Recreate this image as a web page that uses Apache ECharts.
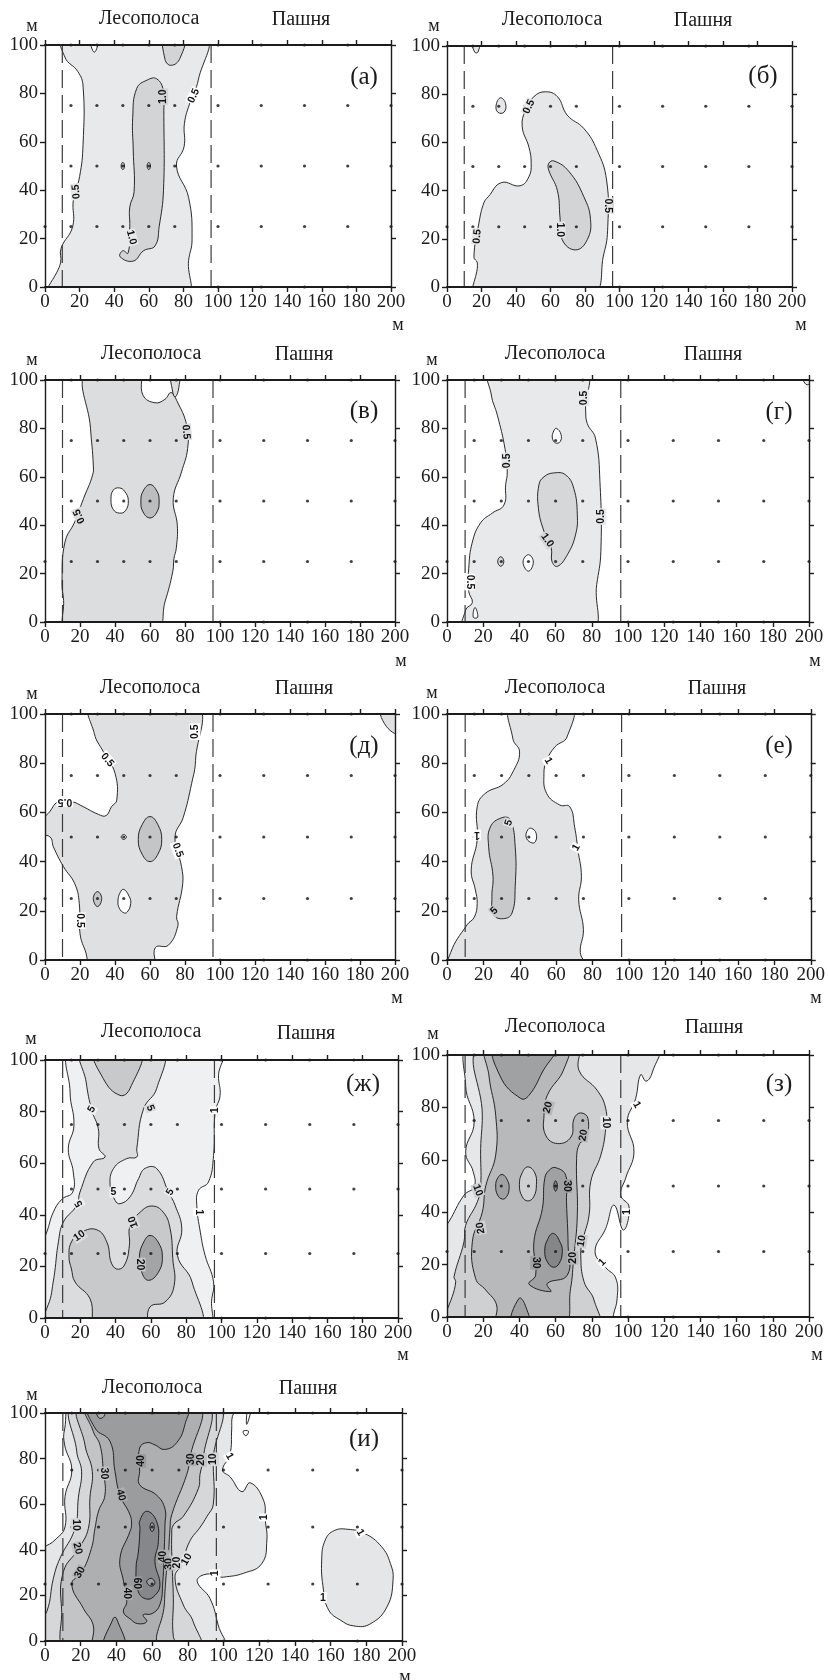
<!DOCTYPE html>
<html><head><meta charset="utf-8"><style>html,body{margin:0;padding:0;background:#fff}#c{width:828px;height:1680px}</style>
<script src="https://cdn.jsdelivr.net/npm/echarts@6/dist/echarts.min.js"></script></head>
<body><div id="c"></div>
<script>
// ---- Contour outlines, in metres (x along the transect, y along the belt) ----
// Panel а
const a05 = [[3,0],[9,10],[9.3,16],[16,25],[16.4,36],[20,45.6],[22,59],[22,83],[19,89],[11.5,95],[10.6,100],[91.6,100],[88.6,85.5],[84,76.6],[80.6,67.6],[80.4,58],[76,50],[83,37],[85,19.5],[83,11],[81,0]];
const a10 = [[59,85.5],[64.6,86],[68.5,81],[68.7,73],[68.5,40],[66,25],[63.6,17],[57,15],[51,10.7],[43.4,12.5],[45,15],[48,14],[49,25],[49,33],[51.5,39.4],[51,56.6],[50.7,70],[53,82]];
const a10top = [[69.4,100],[69.4,94],[73,91.6],[78,94.5],[80.4,100]];
const aHole = [[26,100],[28.5,97],[31,100]];
const aSpot1 = [[44,50],[45,51.5],[46,50],[45,48.5]];
const aSpot2 = [[59,50],[60,51.5],[61,50],[60,48.5]];
// Panel б
const b05 = [[17.6,0],[17.6,10],[15.6,12.4],[18.5,26.5],[21.4,35],[24,37.5],[31.5,43.3],[42.3,42],[47.5,45.8],[48.8,51.3],[47.5,58],[43.6,66.5],[45.5,73.4],[50.4,79],[57,81],[64,79],[69.7,71.3],[79.3,65.8],[87,56.8],[92.5,44.4],[93.2,25],[91,14],[82.8,0]];
const b10 = [[59,51.3],[62,52.3],[70.6,48],[79.3,37.5],[83.2,28],[81.3,19.6],[74.5,15.4],[66.8,19.6],[65.5,29],[64,40],[59,48.5]];
const bLoop1 = [[31,78.5],[34,76],[33,72.5],[29.5,72.5],[28.5,75.5]];
const bLoop2 = [[14,100],[16,97.5],[18,97.5],[19,100]];
// Panel в
const v05 = [[13.3,0],[10.5,10],[9.7,16.6],[11.4,33],[17,41.4],[22,51],[27.2,60.7],[27.6,64.8],[26,80],[23.8,100],[53,100],[56,93.7],[62.8,90.6],[68.5,92],[72,94.8],[75.2,91.6],[81,81.3],[81.5,71.7],[78,62],[73.3,51],[75.6,40],[75,30.4],[73.7,26.3],[73,20.8],[68.6,8.4],[62.8,0]];
const vTop = [[72,100],[73,95],[74.5,93],[76.5,97],[76.5,100]];
const vHole = [[42.5,55.4],[45.5,54],[47.6,50.3],[46,46],[42.5,45],[39,46.5],[37.7,50.5],[39,54.5]];
const v10 = [[60,56.8],[64,54],[65.2,50],[64,45.5],[60,43],[56,45.5],[54.8,50],[56,54]];
// Panel г
const g05 = [[9.8,0],[10.3,5],[14,8],[12,12.6],[12,22],[14,33],[18.6,41],[25,45],[31.5,48.4],[32.4,56.7],[33.3,62],[32,71.8],[27.8,85.5],[24.5,93.8],[24,100],[75.7,100],[76.6,87.6],[77.5,82],[82,76],[84.5,58],[85,29],[82.7,15.4],[78.8,0]];
const g10 = [[59,61.6],[65.5,60.8],[70,55.3],[72,44.3],[71,36],[66.5,27.8],[61,23],[58,25],[57.6,30.5],[53.6,37.4],[50.5,47],[50.8,56.7],[53.6,60]];
const gHole1 = [[60.5,80],[63,77.5],[62.5,74.5],[60,74],[58.2,76],[59,79]];
const gHole2 = [[45,27.8],[47.7,24.8],[45,21],[42,24.8]];
const gHole3 = [[14.5,2],[15.5,6],[17,2]];
const gSpot = [[28,25],[29.7,27],[31.4,25],[29.7,23]];
const gCorner = [[196,100],[199,98],[200,100]];
// Panel д
const d05 = [[0,51.5],[2.9,50],[4.8,46],[10.5,38],[17,31],[19.6,23],[20,10.8],[22.9,4],[28,0],[61.5,0],[63,5],[70.5,6],[76,14],[75.2,17.6],[78.7,31],[78,38],[74.3,50],[79,58],[83.8,71.8],[86,81],[85.7,100],[26.7,100],[28.2,92],[33.3,84.7],[40,75.9],[41,65],[38,62.3],[34.9,58.7],[30.5,59.2],[21.9,62.3],[15.2,64.4],[7.6,64.4],[1.9,59.6],[0,55.5]];
const dCorner = [[192,100],[195,95],[200,92],[200,100]];
const d10 = [[60,58.3],[64.5,55],[66.7,49],[64.5,43],[60,40],[55.5,43],[53.3,49],[55.5,55]];
const dHole1 = [[43.5,50],[45,51],[46.5,50],[45,49]];
const dHole2 = [[45,28.7],[48,26],[49,23],[47,19.5],[45,19.2],[42.5,21],[41.7,24],[43,27.5]];
const dSpot = [[27.6,25],[30,27.8],[32.4,25],[30,21.7]];
// Panel е
const e1 = [[1.6,0],[2,3],[11,14.3],[15,17.4],[16.6,23],[15.6,28.5],[13.3,36.6],[16.6,48.8],[16.6,62.3],[21,67.7],[31,71.5],[36.6,77],[39.9,84.6],[36.2,90],[35.7,100],[68,100],[66,90.7],[59.3,86.6],[54.8,81],[53.3,75.8],[54.8,67.7],[62,63],[67.5,62.3],[70.2,54],[72,44.7],[73.9,34],[72.4,24.5],[75,12.3],[73.3,3],[76.6,0]];
const e5 = [[30,57.8],[34.7,57],[37.5,46],[37.5,30],[35.7,19],[31,16.8],[25.7,18.4],[24.7,25.8],[25.3,34],[22.9,46],[23.8,54]];
const eHole = [[46.5,53.5],[49,51.5],[48.5,48],[46,47.8],[43.5,50],[44.5,53]];
// Panel ж
const zh1 = [[0,0],[0,25],[1,33.3],[4.7,41],[9.5,46],[15.7,48.8],[16,56.6],[13.2,65.6],[16.4,74.7],[14.2,87.6],[16,100],[99.8,100],[98.3,94],[99.2,86.3],[96.4,79.8],[95.5,63],[92.6,52.7],[87,49.5],[86,43.7],[88,33.3],[90.7,24.3],[95.5,14],[94.5,7.5],[91.7,0]];
const zh5 = [[21.4,100],[23.3,91.5],[26.5,80.5],[30.2,73.4],[30.6,65.6],[34,62.4],[27.4,60.5],[19.8,48.8],[18,43.7],[10.4,37.2],[7.6,29.5],[5.5,17.8],[3.8,10],[1.5,0],[86,0],[83.3,14],[75,24.3],[77.5,34.6],[73.7,43.7],[70,48.8],[63.3,57.9],[56.7,58],[53,54],[48.2,47],[42.5,44.3],[39.7,45.6],[36.9,51.4],[38.8,57.9],[46.3,61.8],[52,62.4],[52,65.6],[55.8,81],[63.3,89],[65.6,100]];
const zh10 = [[13.6,23.6],[15,29.5],[20.8,33.3],[29.3,34.2],[35,29.5],[37.8,21],[41.6,18.9],[45.4,21],[47.8,28],[48.2,35.8],[53.9,41],[60.5,43.4],[67,41],[70.9,34.6],[72.4,23],[73.2,12.7],[68,6.2],[59.5,4.3],[55.8,0],[29.7,0],[25.5,7.5],[17,14],[15,19]];
const zh20 = [[59.5,32],[64,29.5],[66.5,24],[64.3,17.8],[58.6,14.6],[54.8,17.8],[53.5,24],[56,29.5]];
const zhTop = [[28.4,100],[33,92.8],[42.5,86.3],[48.2,89],[53.9,100]];
// Panel з
const z1 = [[0,0],[0,31.3],[1,36.3],[9.4,46.5],[15,49.7],[14.5,55.4],[10.3,63],[15,74.5],[10.3,88.4],[14,100],[116,100],[113.5,93.5],[110,90],[107,92.5],[104.2,83.3],[99.6,74.5],[103.3,63],[98.7,53],[96,46.5],[100.6,42],[97.4,33.2],[92.3,42.7],[87.7,33.8],[81.8,25],[87.5,19],[93.2,14.9],[94,7],[92,1],[90.4,0]];
const z10 = [[2,0],[4.8,13.5],[3.9,15.4],[9.4,28.7],[10.3,35],[16.8,44],[18.6,50],[18.6,64.3],[19.5,77],[18.6,100],[71.5,100],[73,94],[83,86.5],[87.7,79.5],[87.7,72],[85,61.8],[79.4,51.6],[78.5,38.9],[74.8,28.7],[73.9,23.6],[75.7,13.5],[81.2,6.5],[82.7,0]];
const z20 = [[22.7,100],[23.2,92],[26.9,77],[26.9,61.8],[21.4,50],[19.5,40],[14,28.7],[15.8,14.7],[21.4,10.3],[27.4,4.6],[27.8,0],[63.4,0],[68.3,11],[69.8,21],[72,38.9],[71.6,60.5],[73.3,66.2],[76.6,68],[77.9,75.7],[73.9,77.9],[70.2,75.7],[68.5,68.7],[61,66.2],[54.5,69.4],[53.6,77],[55.4,84.6],[64.7,94.8],[65.9,100]];
const z30 = [[60,57],[65.6,54],[66,44],[66.9,27.4],[66.5,16],[55.4,12.8],[57.3,9.7],[45.3,12.5],[49,16],[48,28.7],[52.7,41.4],[54,52.9],[56.4,56]];
const z30left = [[30.6,54.4],[33.5,52],[34.3,49],[33,46],[30.6,45],[28,46.5],[26.9,50],[28,53]];
const z30bottom = [[35.2,0],[39.8,7.1],[43.5,4],[45.3,0]];
const z30top = [[27,100],[29.3,92],[40.8,83.4],[45.3,84.6],[52.7,93.5],[60,100]];
const z40 = [[58.8,31.9],[62.5,28.5],[63.7,25],[62,20.5],[58.8,19],[55.5,21],[54,25],[55.5,29.5]];
const zHole = [[44.7,57.3],[48.5,55],[49.4,50.5],[48,46],[44.7,44.3],[41.5,46],[40,50.5],[41.5,55]];
const zSpot = [[59,50],[60,52],[61,50],[60,48]];
// Panel и
const i1 = [[0,0],[0,37.7],[5.6,44.3],[11.2,50],[11.2,63.3],[15,75],[11,86],[11,93],[16,100],[108,100],[105,98.5],[104.6,93],[103.6,81.7],[99.5,75],[103.7,72],[110.3,65.5],[115,69.4],[122.4,61.8],[123.4,53],[124.3,44.3],[121.5,34],[111.2,29.7],[100,28],[98,28.2],[96.5,29],[88.7,29],[85.3,26],[92.4,18.7],[97,7],[100,0]];
const i1b = [[157,44.3],[162,48.4],[169.6,49],[179,47.2],[188.5,41.4],[193.5,34],[195,26.8],[191.6,15],[182.2,7.5],[173,6.6],[165.4,9.2],[158.9,13.6],[156,22.4],[155,35.5]];
const i10 = [[0,0],[0,8.5],[1,12.9],[4.7,27.5],[8.4,36.3],[16.8,49.4],[18.7,63],[20.5,74.4],[17.8,83],[17,100],[96,100],[94.3,80],[94.3,60],[90.7,54.6],[87,50],[81,43.6],[76.5,33.5],[72.8,28],[77.5,15.8],[83,8.5],[85.9,0]];
const i20 = [[13,0],[9.3,14],[10.3,30.4],[18.7,40.4],[24.3,49.4],[25.2,63],[26.5,74.4],[22.4,86],[20.5,100],[89.6,100],[88.7,80],[86.8,73],[86,67],[77.5,54.7],[72,51],[71,46.5],[71.3,32],[71.9,18.7],[71.9,2],[75,0]];
const i30 = [[28,0],[27,7],[21.5,14.3],[15,25],[20.5,30],[26,40.6],[28,49.4],[30,57],[33.6,64],[32.7,74.4],[30.8,86],[27,92],[23.4,100],[85,100],[81.2,80],[79.4,73],[71,55.4],[70,49],[69,36],[68,30],[67.2,21.6],[66.3,12.9],[62.6,2.6],[61.3,0]];
const i40 = [[25,100],[28,93.4],[36.4,87.6],[39.2,74.4],[42,64],[47.6,55.4],[48.5,51],[47.6,48],[42,36.3],[44,26],[45.8,17],[43.9,12.8],[48,9.5],[52,7.6],[57,8.5],[55,11.5],[60,12],[64.4,16],[66,26],[66.7,38],[67.2,51],[67.2,58],[62.5,64],[53,68.6],[53,74.4],[53,84.6],[57,87],[61.6,86],[67,84],[73.8,87],[78.4,95],[79.4,100]];
const i40bottom = [[32.7,0],[38.3,10],[40,10],[44.8,0]];
const i60 = [[57,56.9],[62.5,52.5],[63.5,43.6],[61.6,34.8],[64.4,24.6],[61.6,20],[57,18.4],[52.3,21.6],[51,32],[52.3,39],[53.2,49.4],[53,52.5]];
const iLoop = [[28,100],[30,98],[33,98.5],[34,100]];
const iSpot1 = [[57,26],[59.5,27.5],[61.6,25.5],[59.5,24]];
const iSpot2 = [[58.8,50],[60,52],[61.2,50],[60,48]];
const iFleck1 = [[114,100],[113,95],[116,100]];
const iFleck2 = [[111,92],[112.5,90],[114,92]];

// Contour labels: x, y, text, angle, and the tone behind it
const aLabels = [[18,39.4,'0.5',95,0],[86,79,'0.5',65,null],[68,78.6,'1.0',90,1],[50,20.5,'1.0',-75,0]];
const bLabels = [[47.5,74.8,'0.5',65,0],[93,33.7,'0.5',-90,0],[17.5,21,'0.5',85,0],[65.5,23.7,'1.0',-90,0]];
const vLabels = [[19.6,43.7,'0.5',115,0],[80.6,78.5,'0.5',-85,0]];
const gLabels = [[33,66.6,'0.5',90,0],[75.7,92.6,'0.5',90,0],[85,43.6,'0.5',90,0],[12.5,16.5,'0.5',-90,null],[55.4,33.8,'1.0',-55,1]];
const dLabels = [[35.6,81.3,'0.5',-50,null],[11.4,64.4,'0.5',180,null],[85.7,92.8,'0.5',90,null],[75.8,44.7,'0.5',-70,null],[20,16,'0.5',-90,null]];
const eLabels = [[16.5,50.8,'1',180,null],[55.7,81,'1',-60,null],[71,45.7,'1',60,null],[34,55.8,'5',70,0],[26,20,'5',45,1]];
const zhLabels = [[26.5,80.9,'5',60,0],[59.6,81.4,'5',-70,1],[96.4,80.5,'1',90,null],[87,41,'1',-90,null],[19.3,44.3,'5',120,0],[38.8,48.8,'5',0,0],[70.9,48.8,'5',60,0],[19.5,31.8,'10',35,1],[50,37.2,'10',110,1],[53.9,20.7,'20',-90,2]];
const zLabels = [[104.8,81,'1',-60,null],[87.7,74.2,'10',-90,0],[55.8,80,'20',75,2],[75.3,69.4,'20',80,2],[17,48.4,'10',-70,1],[66,50,'30',-90,3],[18.6,34,'20',100,1],[74.4,29,'10',80,1],[69.6,22.6,'20',90,2],[49,20.7,'30',-90,3],[99.6,40,'1',90,null],[85.8,20.8,'1',45,null]];
const iLabels = [[103.4,81,'1',-60,null],[53.6,79,'40',90,4],[81.7,79.7,'30',90,3],[87.7,79.4,'20',90,2],[94.4,79.7,'10',90,1],[33,73.5,'30',-90,2],[42.4,64,'40',-75,3],[17.4,50.9,'10',-90,1],[123,54.2,'1',90,null],[18.3,40.6,'20',-75,2],[66.4,37,'40',90,3],[69.7,33.8,'30',90,3],[73.8,34.4,'20',90,1],[79.4,35.8,'10',60,0],[19.6,30,'30',60,3],[51.4,25.3,'60',-90,4],[45.8,20.9,'40',-90,3],[95.3,29.7,'1',90,null],[155.7,19,'1',0,null],[176.6,47.5,'1',-60,null]];

// Sampling points and reference lines
const dotX = [15,30,45,60,75,100,125,150,175,200];
const dotRows = [25,50,75];
const edgeTopX = [15,30,45,60,75,100,125,150,175];
const edgeBottomX = [100,125,150,175];
const beltEdges = [10,96];
const xTicks = {min:0,max:200,step:20};
const yTicks = {min:0,max:100,step:20};

// ---- Panels ----
const panels = [
 {name:'(а)', box:[45,45,391,287], nameAt:[364,77], belt:[149,19], field:[301,20], yU:[32,26], xU:[398,325],
  tones:['#e8e9eb','#d3d4d6'],
  shapes:[[a05,0],[a10,1],[a10top,1],[aHole,'w'],[aSpot1,1],[aSpot2,1]], labels:aLabels},
 {name:'(б)', box:[447,46,792,287], nameAt:[763,76], belt:[552,20], field:[703,21], yU:[434,26], xU:[801,325],
  tones:['#e6e7e9','#d3d4d6'],
  shapes:[[b05,0],[b10,1],[bLoop1,0],[bLoop2,0]], labels:bLabels},
 {name:'(в)', box:[45,380,395,622], nameAt:[364,411], belt:[151,354], field:[304,355], yU:[32,360], xU:[401,661],
  tones:['#dcddde','#bcbdbf'],
  shapes:[[v05,0],[vTop,0],[vHole,'w'],[v10,1]], labels:vLabels},
 {name:'(г)', box:[447,380,809,622], nameAt:[779,412], belt:[555,354], field:[713,355], yU:[432,360], xU:[815,661],
  tones:['#e8e9eb','#d6d7d9'],
  shapes:[[g05,0],[g10,1],[gHole1,'w'],[gHole2,'w'],[gHole3,'w'],[gSpot,1],[gCorner,0]], labels:gLabels},
 {name:'(д)', box:[45,714,395,960], nameAt:[364,746], belt:[150,688], field:[304,689], yU:[32,694], xU:[397,998],
  tones:['#dfe0e2','#c4c5c7'],
  shapes:[[d05,0],[dCorner,0],[d10,1],[dHole1,'w'],[dHole2,'w'],[dSpot,1]], labels:dLabels},
 {name:'(е)', box:[447,714,813,960], nameAt:[779,746], belt:[555,688], field:[717,689], yU:[432,693], xU:[816,998],
  tones:['#e2e3e5','#c8c9cb'],
  shapes:[[e1,0],[e5,1],[eHole,'w']], labels:eLabels},
 {name:'(ж)', box:[45,1060,398,1318], nameAt:[363,1084], belt:[151,1032], field:[306,1034], yU:[31,1039], xU:[403,1355],
  tones:['#eff0f1','#dbdcde','#c8c9cb','#a3a4a6'],
  shapes:[[zh1,0],[zh5,1],[zh10,2],[zh20,3],[zhTop,2]], labels:zhLabels},
 {name:'(з)', box:[447,1055,809,1317], nameAt:[779,1084], belt:[555,1027], field:[714,1028], yU:[433,1034], xU:[817,1355],
  tones:['#e6e7e9','#cfd0d2','#b8b9bb','#a0a1a3','#858688'],
  shapes:[[z1,0],[z10,1],[z20,2],[z30,3],[z30left,3],[z30bottom,3],[z30top,3],[z40,4],[zHole,1],[zSpot,4]], labels:zLabels},
 {name:'(и)', box:[45,1413,402,1641], nameAt:[364,1439], belt:[152,1388], field:[308,1389], yU:[32,1395], xU:[405,1677],
  tones:['#e5e6e8','#d6d7d9','#c3c4c6','#aeafb1','#9b9c9e','#86878a'],
  shapes:[[i1,0],[i1b,0],[i10,1],[i20,2],[i30,3],[i40,4],[i40bottom,4],[i60,5],[iLoop,3],[iSpot1,4],[iSpot2,4],[iFleck1,'w'],[iFleck2,'w']], labels:iLabels}
];

const INK = '#1d1b1c', SERIF = '"Liberation Serif"';
const snap = ([x,y]) => [x<=0?-4:x>=200?204:x, y<=0?-4:y>=100?104:y];

const option = {animation:false, backgroundColor:'#fff', grid:[], xAxis:[], yAxis:[], series:[], graphic:[]};

function axis(pos, gridIndex, t, isX, labelled){
  return {type:'value', gridIndex, position:pos, min:t.min, max:t.max, interval:t.step, z:10,
    splitLine:{show:false},
    axisLine:{show:true, onZero:false, lineStyle:{color:INK, width:isX?2:1.4}},
    axisTick:{show:true, inside:false, length:5, lineStyle:{color:INK, width:1.4}},
    axisLabel:{show:labelled, margin:isX?6:7, fontFamily:SERIF, fontSize:19, color:INK, hideOverlap:false}};
}
function txt(at, text, size){
  return {type:'text', x:at[0], y:at[1], z:20, silent:true,
    style:{text, fill:INK, fontFamily:SERIF, fontSize:size, align:'center', verticalAlign:'middle'}};
}

panels.forEach((p,i)=>{
  const [l,t,r,b] = p.box;
  option.grid.push({left:l, top:t, width:r-l, height:b-t, containLabel:false});
  option.xAxis.push(axis('bottom',i,xTicks,true,true), axis('top',i,xTicks,true,false));
  option.yAxis.push(axis('left',i,yTicks,false,true), axis('right',i,yTicks,false,false));
  const ax = {xAxisIndex:2*i, yAxisIndex:2*i};

  // filled contour bands
  option.series.push({type:'custom', ...ax, clip:true, silent:true, z:2,
    coordinateSystem:'cartesian2d',
    data:p.shapes.map((s,k)=>[0,0,k]), dimensions:['x','y','k'],
    encode:{x:0,y:1},
    renderItem(params, api){
      const [pts, tone] = p.shapes[params.dataIndex];
      return {type:'polygon',
        shape:{points:pts.map(q=>api.coord(snap(q))), smooth:0.45},
        style:{fill: tone==='w' ? '#ffffff' : p.tones[tone], stroke:'#141414', lineWidth:0.9}};
    }});

  // belt edges
  beltEdges.forEach(x=>option.series.push({type:'line', ...ax, silent:true, z:3, symbol:'none', clip:true,
    data:[[x,100],[x,0]], lineStyle:{color:'#3a3a3a', width:1.2, type:[18,7]}}));

  // sampling points
  const pts = [];
  dotRows.forEach(y=>dotX.forEach(x=>pts.push([x,y])));
  edgeTopX.forEach(x=>pts.push([x,100]));
  edgeBottomX.forEach(x=>pts.push([x,0]));
  pts.push([0,25]);
  option.series.push({type:'scatter', ...ax, silent:true, z:4, symbol:'circle', symbolSize:3.2, clip:false,
    data:pts, itemStyle:{color:'#111'}});

  // contour labels
  option.series.push({type:'custom', ...ax, silent:true, z:5, clip:false,
    coordinateSystem:'cartesian2d',
    data:p.labels.map(q=>[q[0],q[1]]), encode:{x:0,y:1},
    renderItem(params, api){
      const [x,y,text,rot,tone] = p.labels[params.dataIndex];
      const c = api.coord([x,y]);
      return {type:'text', x:c[0], y:c[1], rotation:rot*Math.PI/180,
        style:{text, x:0, y:0, align:'center', verticalAlign:'middle',
          fontFamily:'"Liberation Sans"', fontWeight:'bold', fontSize:10.5, fill:'#111',
          backgroundColor: tone===null ? '#fff' : p.tones[tone], padding:[0,1]}};
    }});

  option.graphic.push(
    txt(p.belt,'Лесополоса',20), txt(p.field,'Пашня',20),
    txt(p.yU,'м',18), txt(p.xU,'м',18), txt(p.nameAt,p.name,25));
});

const chart = echarts.init(document.getElementById('c'), null, {width:828, height:1680, renderer:'canvas'});
chart.setOption(option);
</script></body></html>
